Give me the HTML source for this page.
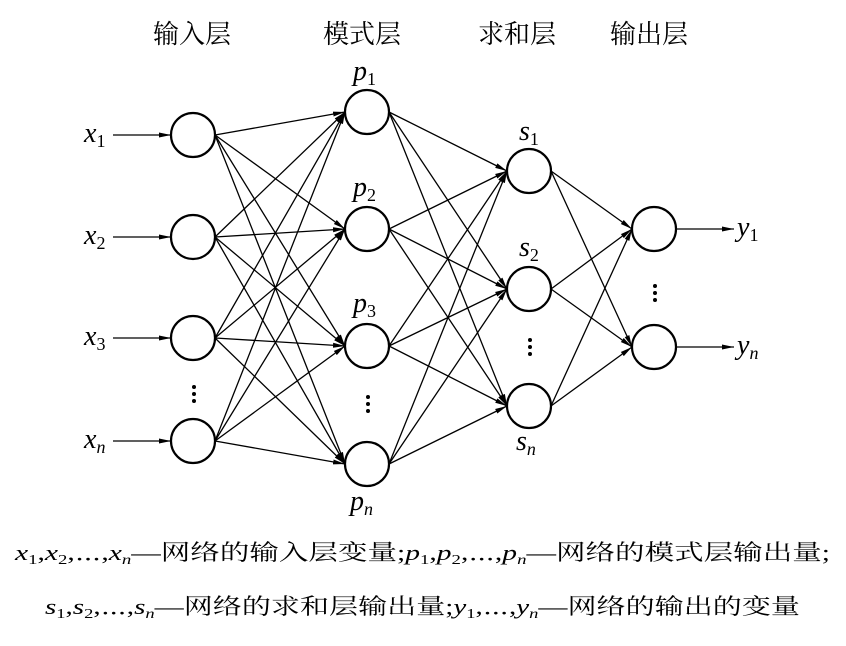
<!DOCTYPE html>
<html><head><meta charset="utf-8"><style>
html,body{margin:0;padding:0;background:#fff;}
svg{display:block;}
.cj{font-family:"Liberation Serif","Noto Serif CJK SC",serif;}
.it{font-family:"Liberation Serif",serif;font-style:italic;}
</style></head><body>
<svg width="846" height="646" viewBox="0 0 846 646" xmlns="http://www.w3.org/2000/svg">
<defs><marker id="a" markerWidth="12" markerHeight="6" refX="12" refY="3" orient="auto" markerUnits="userSpaceOnUse"><path d="M0,0.5 L12,3 L0,5.5 Z" fill="#000"/></marker></defs>
<g class="cj" font-size="26" fill="#000">
<text x="153" y="43">输入层</text>
<text x="323" y="43">模式层</text>
<text x="478" y="43">求和层</text>
<text x="610" y="43">输出层</text>
</g>
<g stroke="#000" stroke-width="2.2" fill="#fff">
<circle cx="193" cy="135" r="22"/><circle cx="193" cy="237" r="22"/><circle cx="193" cy="338" r="22"/><circle cx="193" cy="441" r="22"/>
<circle cx="367" cy="112" r="22"/><circle cx="367" cy="229" r="22"/><circle cx="367" cy="346" r="22"/><circle cx="367" cy="464" r="22"/>
<circle cx="529" cy="171" r="22"/><circle cx="529" cy="289" r="22"/><circle cx="529" cy="406" r="22"/>
<circle cx="654" cy="229" r="22"/><circle cx="654" cy="347" r="22"/>
</g>
<g stroke="#000" stroke-width="1.3" marker-end="url(#a)">
<line x1="113" y1="135" x2="171" y2="135"/><line x1="113" y1="237" x2="171" y2="237"/><line x1="113" y1="338" x2="171" y2="338"/><line x1="113" y1="441" x2="171" y2="441"/>
<line x1="676" y1="229" x2="734" y2="229"/><line x1="676" y1="347" x2="734" y2="347"/>
</g>
<g fill="#000">
<circle cx="194" cy="387" r="2"/><circle cx="194" cy="394" r="2"/><circle cx="194" cy="401" r="2"/>
<circle cx="368" cy="397" r="2"/><circle cx="368" cy="404" r="2"/><circle cx="368" cy="411" r="2"/>
<circle cx="530" cy="340" r="2"/><circle cx="530" cy="347" r="2"/><circle cx="530" cy="354" r="2"/>
<circle cx="655" cy="286" r="2"/><circle cx="655" cy="293" r="2"/><circle cx="655" cy="300" r="2"/>
</g>
<g class="it" font-size="28">
<text x="84" y="142">x<tspan font-style="normal" font-size="18" dy="5">1</tspan></text>
<text x="84" y="244">x<tspan font-style="normal" font-size="18" dy="5">2</tspan></text>
<text x="84" y="345">x<tspan font-style="normal" font-size="18" dy="5">3</tspan></text>
<text x="84" y="448">x<tspan font-size="18" dy="5">n</tspan></text>
<text x="353" y="80">p<tspan font-style="normal" font-size="18" dy="5">1</tspan></text>
<text x="353" y="196">p<tspan font-style="normal" font-size="18" dy="5">2</tspan></text>
<text x="353" y="312">p<tspan font-style="normal" font-size="18" dy="5">3</tspan></text>
<text x="350" y="510">p<tspan font-size="18" dy="5">n</tspan></text>
<text x="519" y="140">s<tspan font-style="normal" font-size="18" dy="5">1</tspan></text>
<text x="519" y="256">s<tspan font-style="normal" font-size="18" dy="5">2</tspan></text>
<text x="516" y="450">s<tspan font-size="18" dy="5">n</tspan></text>
<text x="737" y="236">y<tspan font-style="normal" font-size="18" dy="5">1</tspan></text>
<text x="737" y="354">y<tspan font-size="18" dy="5">n</tspan></text>
</g>
<g class="cj" font-size="22">
<text x="15" y="560" textLength="815" lengthAdjust="spacingAndGlyphs"><tspan font-style="italic">x</tspan><tspan font-size="14" dy="4">1</tspan><tspan dy="-4">,</tspan><tspan font-style="italic">x</tspan><tspan font-size="14" dy="4">2</tspan><tspan dy="-4">,⋯,</tspan><tspan font-style="italic">x</tspan><tspan font-size="14" font-style="italic" dy="4">n</tspan><tspan dy="-4">—网络的输入层变量;</tspan><tspan font-style="italic">p</tspan><tspan font-size="14" dy="4">1</tspan><tspan dy="-4">,</tspan><tspan font-style="italic">p</tspan><tspan font-size="14" dy="4">2</tspan><tspan dy="-4">,⋯,</tspan><tspan font-style="italic">p</tspan><tspan font-size="14" font-style="italic" dy="4">n</tspan><tspan dy="-4">—网络的模式层输出量;</tspan></text>
<text x="45" y="614" textLength="755" lengthAdjust="spacingAndGlyphs"><tspan font-style="italic">s</tspan><tspan font-size="14" dy="4">1</tspan><tspan dy="-4">,</tspan><tspan font-style="italic">s</tspan><tspan font-size="14" dy="4">2</tspan><tspan dy="-4">,⋯,</tspan><tspan font-style="italic">s</tspan><tspan font-size="14" font-style="italic" dy="4">n</tspan><tspan dy="-4">—网络的求和层输出量;</tspan><tspan font-style="italic">y</tspan><tspan font-size="14" dy="4">1</tspan><tspan dy="-4">,⋯,</tspan><tspan font-style="italic">y</tspan><tspan font-size="14" font-style="italic" dy="4">n</tspan><tspan dy="-4">—网络的输出的变量</tspan></text>
</g>
<g stroke="#000" stroke-width="1.3" fill="none" marker-end="url(#a)">
<line x1="215" y1="135" x2="345" y2="112"/><line x1="215" y1="135" x2="345" y2="229"/><line x1="215" y1="135" x2="345" y2="346"/><line x1="215" y1="135" x2="345" y2="464"/>
<line x1="215" y1="237" x2="345" y2="112"/><line x1="215" y1="237" x2="345" y2="229"/><line x1="215" y1="237" x2="345" y2="346"/><line x1="215" y1="237" x2="345" y2="464"/>
<line x1="215" y1="338" x2="345" y2="112"/><line x1="215" y1="338" x2="345" y2="229"/><line x1="215" y1="338" x2="345" y2="346"/><line x1="215" y1="338" x2="345" y2="464"/>
<line x1="215" y1="441" x2="345" y2="112"/><line x1="215" y1="441" x2="345" y2="229"/><line x1="215" y1="441" x2="345" y2="346"/><line x1="215" y1="441" x2="345" y2="464"/>
<line x1="389" y1="112" x2="507" y2="171"/><line x1="389" y1="112" x2="507" y2="289"/><line x1="389" y1="112" x2="507" y2="406"/>
<line x1="389" y1="229" x2="507" y2="171"/><line x1="389" y1="229" x2="507" y2="289"/><line x1="389" y1="229" x2="507" y2="406"/>
<line x1="389" y1="346" x2="507" y2="171"/><line x1="389" y1="346" x2="507" y2="289"/><line x1="389" y1="346" x2="507" y2="406"/>
<line x1="389" y1="464" x2="507" y2="171"/><line x1="389" y1="464" x2="507" y2="289"/><line x1="389" y1="464" x2="507" y2="406"/>
<line x1="551" y1="171" x2="632" y2="229"/><line x1="551" y1="171" x2="632" y2="347"/>
<line x1="551" y1="289" x2="632" y2="229"/><line x1="551" y1="289" x2="632" y2="347"/>
<line x1="551" y1="406" x2="632" y2="229"/><line x1="551" y1="406" x2="632" y2="347"/>
</g>
</svg>
</body></html>
